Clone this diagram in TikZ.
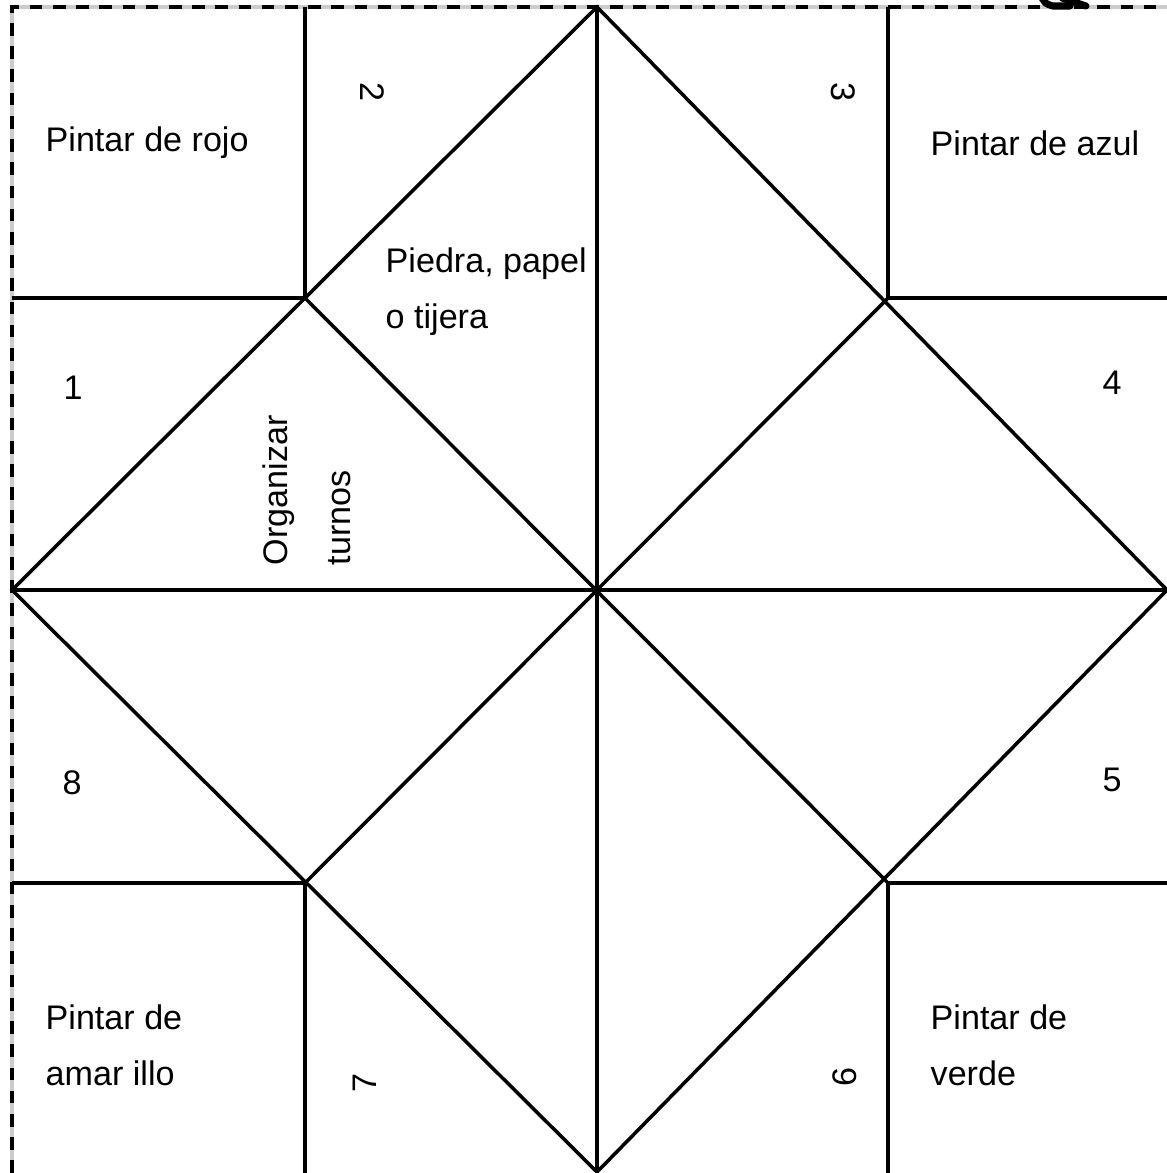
\documentclass[tikz,border=0pt]{standalone}
\usepackage{fontspec}
\setmainfont{Liberation Sans}
\usetikzlibrary{positioning}

\begin{document}
\begin{tikzpicture}[
    x=0.01cm, y=-0.01cm, % one unit per pixel of the sheet
    fold/.style={black, line width=1pt, line join=miter}, % Style for the fold lines
    cutline/.style={black, line width=1.1pt, dash pattern=on 3.6pt off 3pt}, % Style for the dashed cut border
    guide/.style={gray!40, line width=0.9pt}, % Style for the faint line under the dashes
    labelstyle/.style={font=\fontsize{9.7}{16}\selectfont, align=left, inner sep=0pt}, % Style for the texts
    numstyle/.style={font=\fontsize{9.7}{12}\selectfont, inner sep=0pt} % Style for the numbers
]
    \useasboundingbox (0,0) rectangle (1167,1173);
    \clip (0,0) rectangle (1167,1173);

    % --- Key points of the sheet ---
    \coordinate (T) at (597,7);    % top tip
    \coordinate (L) at (12,590);   % left tip
    \coordinate (R) at (1167,590); % right tip
    \coordinate (B) at (597,1172); % bottom tip
    \coordinate (O) at (597,590);  % centre

    % inner square corners
    \coordinate (q1) at (305,298);
    \coordinate (q2) at (888,298);
    \coordinate (q3) at (888,883);
    \coordinate (q4) at (305,883);

    % points on the sheet border
    \coordinate (top1) at (305,7);
    \coordinate (top2) at (888,7);
    \coordinate (bot1) at (305,1173);
    \coordinate (bot2) at (888,1173);
    \coordinate (lft1) at (12,298);
    \coordinate (lft2) at (12,883);
    \coordinate (rgt1) at (1167,298);
    \coordinate (rgt2) at (1167,883);
    \coordinate (corner) at (12,7);

    % --- Cut border ---
    \draw[guide] (bot1 -| corner) -- (corner) -- (top2 -| R);
    \draw[cutline] (bot1 -| corner) -- (corner) -- (top2 -| R);

    % end of the scissors mark, cut off at the top
    \draw[line width=2pt, line cap=round] (1042,-2) .. controls (1046,4) .. (1053,6) -- (1070,6);
    \draw[line width=2pt, line cap=round] (1062,-2) -- (1086,6);

    % --- Fold lines ---
    \draw[fold] (T) -- (R) -- (B) -- (L) -- cycle;
    \draw[fold] (T) -- (B);
    \draw[fold] (L) -- (R);
    \draw[fold] (q1) -- (q3);
    \draw[fold] (q2) -- (q4);

    % corner squares
    \draw[fold] (top1) -- (q1) -- (lft1);
    \draw[fold] (top2) -- (q2) -- (rgt1);
    \draw[fold] (bot1) -- (q4) -- (lft2);
    \draw[fold] (bot2) -- (q3) -- (rgt2);

    % --- Colours ---
    \node[labelstyle, anchor=west] (rojo) at (45,143) {Pintar de rojo};
    \node[labelstyle, anchor=west] (azul) at (930,143) {Pintar de azul};
    \node[labelstyle, anchor=west] (amarillo) at (45,1045) {Pintar de\\amar illo};
    \node[labelstyle, anchor=west] (verde) at (930,1045) {Pintar de\\verde};

    % --- Tasks ---
    \node[labelstyle, anchor=west] (piedra) at (385,292) {Piedra, papel\\o tijera};
    \node[labelstyle, anchor=west, rotate=90, font=\fontsize{9.7}{18}\selectfont] (turnos) at (307,566) {Organizar\\turnos};

    % --- Numbers ---
    \node[numstyle] (n1) at (73,388) {1};
    \node[numstyle, rotate=-90] (n2) at (372,92) {2};
    \node[numstyle, rotate=-90] (n3) at (843,92) {3};
    \node[numstyle] (n4) at (1112,383) {4};
    \node[numstyle] (n5) at (1112,780) {5};
    \node[numstyle, rotate=90] (n6) at (845,1077) {6};
    \node[numstyle, rotate=90] (n7) at (365,1083) {7};
    \node[numstyle] (n8) at (72,783) {8};

\end{tikzpicture}
\end{document}
